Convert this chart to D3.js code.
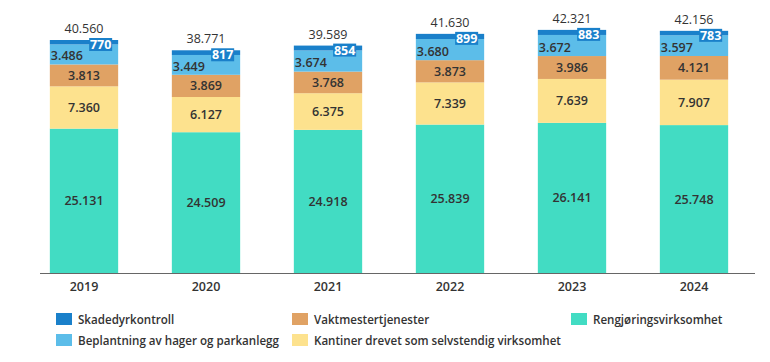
<!DOCTYPE html>
<html>
<head>
<meta charset="utf-8">
<script src="https://cdn.jsdelivr.net/npm/d3@7"></script>
<style>
  body { margin: 0; background: #fff; }
  svg text { font-family: "Open Sans", "Noto Sans", sans-serif; }
</style>
</head>
<body>
<svg id="chart" width="770" height="362"></svg>
<script>
// Data
const years = ['2019', '2020', '2021', '2022', '2023', '2024'];
const rengjoring = [25131, 24509, 24918, 25839, 26141, 25748];
const kantiner = [7360, 6127, 6375, 7339, 7639, 7907];
const vaktmester = [3813, 3869, 3768, 3873, 3986, 4121];
const beplantning = [3486, 3449, 3674, 3680, 3672, 3597];
const skadedyr = [770, 817, 854, 899, 883, 783];
const totals = [40560, 38771, 39589, 41630, 42321, 42156];

// stacking order, bottom first
const series = [
    { name: 'Rengjøringsvirksomhet', values: rengjoring, color: '#42dcc3' },
    { name: 'Kantiner drevet som selvstendig virksomhet', values: kantiner, color: '#fde28e' },
    { name: 'Vaktmestertjenester', values: vaktmester, color: '#e0a264' },
    { name: 'Beplantning av hager og parkanlegg', values: beplantning, color: '#5cbde9' },
    { name: 'Skadedyrkontroll', values: skadedyr, color: '#1a80ca' },
];

const fmt = v => d3.format(',')(v).replace(/,/g, '.');

const svg = d3.select('#chart');

const xScale = d3.scaleBand()
    .domain(years)
    .range([23, 755])
    .paddingInner(0.44)
    .paddingOuter(0.22);

const yScale = d3.scaleLinear()
    .domain([0, 45000])
    .range([273, 14.5]);

// build stacks
const table = years.map((y, i) => {
    const row = { year: y };
    series.forEach(s => { row[s.name] = s.values[i]; });
    return row;
});
const stack = d3.stack().keys(series.map(s => s.name))(table);

const layers = svg.append('g');
stack.forEach((layer, li) => {
    layers.selectAll(null)
        .data(layer)
        .enter()
        .append('rect')
        .attr('x', d => xScale(d.data.year))
        .attr('y', d => yScale(d[1]))
        .attr('width', xScale.bandwidth())
        .attr('height', d => yScale(d[0]) - yScale(d[1]))
        .attr('fill', series[li].color);
});

// axis line
svg.append('line')
    .attr('x1', 40).attr('x2', 755)
    .attr('y1', 273.5).attr('y2', 273.5)
    .attr('stroke', '#666').attr('stroke-width', 1.2);

// year labels
svg.selectAll('.year')
    .data(years)
    .enter()
    .append('text')
    .attr('x', d => xScale(d) + xScale.bandwidth() / 2)
    .attr('y', 291)
    .attr('text-anchor', 'middle')
    .attr('font-size', 12.5)
    .attr('font-weight', 600)
    .attr('fill', '#333')
    .text(d => d);

// centered segment labels (bottom three series)
[0, 1, 2].forEach(li => {
    svg.selectAll(null)
        .data(stack[li])
        .enter()
        .append('text')
        .attr('x', d => xScale(d.data.year) + xScale.bandwidth() / 2)
        .attr('y', d => (yScale(d[0]) + yScale(d[1])) / 2 + 4.5)
        .attr('text-anchor', 'middle')
        .attr('font-size', 12.5)
        .attr('font-weight', 600)
        .attr('fill', '#333')
        .text(d => fmt(d[1] - d[0]));
});

// light blue labels, left aligned
svg.selectAll(null)
    .data(stack[3])
    .enter()
    .append('text')
    .attr('x', d => xScale(d.data.year) + 1)
    .attr('y', d => (yScale(d[0]) + yScale(d[1])) / 2 + 6)
    .attr('font-size', 12.5)
    .attr('font-weight', 600)
    .attr('fill', '#333')
    .text(d => fmt(d[1] - d[0]));

// dark blue labels in boxes at right
const tags = svg.selectAll('.tag')
    .data(stack[4])
    .enter()
    .append('g');
tags.append('rect')
    .attr('x', d => xScale(d.data.year) + xScale.bandwidth() - 29)
    .attr('y', d => yScale(d[1]) - 2)
    .attr('width', 23)
    .attr('height', 13)
    .attr('fill', '#1a80ca');
tags.append('text')
    .attr('x', d => xScale(d.data.year) + xScale.bandwidth() - 17.5)
    .attr('y', d => yScale(d[1]) + 9)
    .attr('text-anchor', 'middle')
    .attr('font-size', 12.5)
    .attr('font-weight', 700)
    .attr('fill', '#fff')
    .text(d => fmt(d[1] - d[0]));

// totals
svg.selectAll('.total')
    .data(years)
    .enter()
    .append('text')
    .attr('x', d => xScale(d) + xScale.bandwidth() / 2)
    .attr('y', (d, i) => yScale(totals[i]) - 7)
    .attr('text-anchor', 'middle')
    .attr('font-size', 12.5)
    .attr('fill', '#333')
    .text((d, i) => fmt(totals[i]));

// legend
const legendOrder = [
    { s: series[4], x: 56, y: 313 },
    { s: series[3], x: 56, y: 334 },
    { s: series[2], x: 292, y: 313 },
    { s: series[1], x: 292, y: 334 },
    { s: series[0], x: 571, y: 313 },
];
const legend = svg.selectAll('.legend')
    .data(legendOrder)
    .enter()
    .append('g');
legend.append('rect')
    .attr('x', d => d.x).attr('y', d => d.y)
    .attr('width', 16).attr('height', 12)
    .attr('fill', d => d.s.color);
legend.append('text')
    .attr('x', d => d.x + 22)
    .attr('y', d => d.y + 10.5)
    .attr('font-size', 11.6)
    .attr('font-weight', 600)
    .attr('fill', '#333')
    .text(d => d.s.name);
</script>
</body>
</html>
